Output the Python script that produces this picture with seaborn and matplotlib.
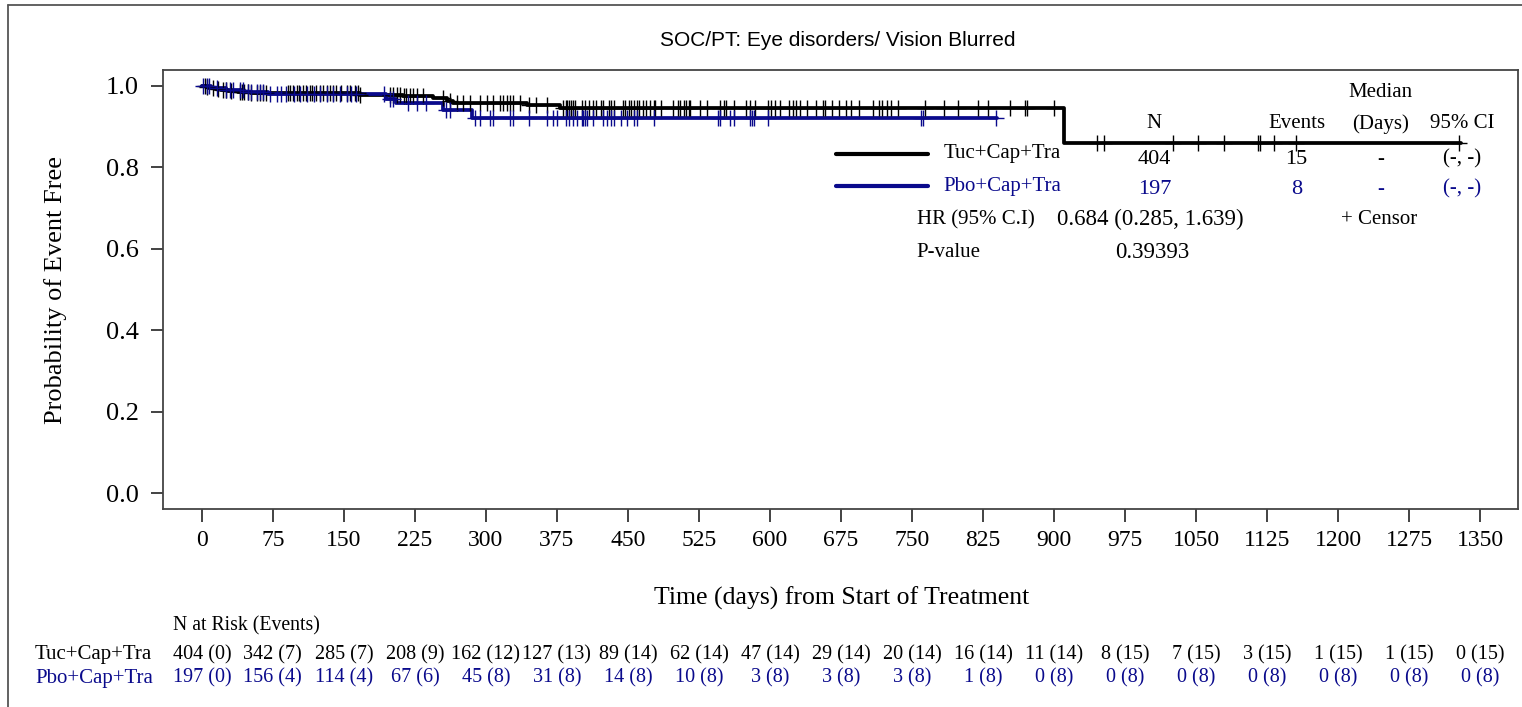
import numpy as np
import pandas as pd
import matplotlib
matplotlib.use("Agg")
import matplotlib.pyplot as plt
import matplotlib.transforms as mtransforms
from matplotlib.lines import Line2D
import seaborn as sns

# Kaplan-Meier step values
tuc_time = [0, 4, 8, 14, 20, 28, 38, 52, 167, 212, 244, 259, 265, 343, 378, 910, 1330]
tuc_surv = [1.0, .9975, .995, .9925, .990, .9875, .985, .9825, .978, .974, .969, .964, .959, .953, .946, .860, .860]
pbo_time = [0, 10, 25, 45, 70, 195, 205, 255, 285, 840]
pbo_surv = [1.0, .995, .990, .984, .979, .968, .958, .940, .921, .921]

# censor times (days)
tuc_censor = [3, 5, 12, 17, 22, 26, 31, 40, 42, 45, 49, 52, 58, 61, 65, 68, 91, 93, 96, 100, 103,
              107, 110, 114, 116, 121, 125, 128, 132, 135, 139, 142, 147, 153, 156, 162, 165, 167,
              199, 202, 206, 209, 213, 216, 220, 223, 227, 234, 255, 262, 269, 276, 283, 294, 301,
              308, 315, 318, 322, 325, 329, 336, 346, 353, 364, 381, 385, 386, 388, 390, 392, 394,
              401, 405, 409, 413, 416, 422, 424, 430, 432, 435, 445, 447, 451, 453, 456, 460, 462,
              466, 469, 473, 477, 479, 485, 498, 503, 505, 509, 511, 515, 516, 526, 533, 547, 551,
              554, 562, 575, 579, 584, 598, 601, 605, 611, 620, 624, 628, 632, 639, 649, 656, 658,
              665, 673, 680, 686, 694, 709, 715, 718, 724, 728, 735, 764, 784, 799, 820, 830, 854,
              869, 871, 900, 945, 953, 1026, 1052, 1080, 1115, 1118, 1132, 1156, 1328]
pbo_censor = [1, 5, 8, 16, 26, 30, 33, 40, 44, 49, 52, 58, 61, 65, 72, 79, 84, 89, 97, 104, 111,
              118, 125, 132, 139, 146, 153, 158, 163, 192, 199, 202, 218, 227, 237, 258, 262, 288,
              294, 304, 308, 325, 329, 346, 364, 371, 375, 385, 388, 392, 396, 401, 403, 405, 407,
              413, 424, 428, 432, 435, 443, 449, 456, 460, 477, 545, 547, 558, 562, 579, 581, 583,
              598, 760, 762, 839]

arms = ["Tuc+Cap+Tra", "Pbo+Cap+Tra"]
arm_n = ["404", "197"]
arm_events = ["15", "8"]
hr_text = "0.684 (0.285, 1.639)"
p_text = "0.39393"

x_ticks = list(range(0, 1351, 75))
tuc_risk = [404, 342, 285, 208, 162, 127, 89, 62, 47, 29, 20, 16, 11, 8, 7, 3, 1, 1, 0]
tuc_risk_ev = [0, 7, 7, 9, 12, 13, 14, 14, 14, 14, 14, 14, 14, 15, 15, 15, 15, 15, 15]
pbo_risk = [197, 156, 114, 67, 45, 31, 14, 10, 3, 3, 3, 1, 0, 0, 0, 0, 0, 0, 0]
pbo_risk_ev = [0, 4, 4, 6, 8, 8, 8, 8, 8, 8, 8, 8, 8, 8, 8, 8, 8, 8, 8]

BLACK = "#000000"
BLUE = "#0A0A8C"
SERIF = "Liberation Serif"

sns.set_theme(style="white")
plt.rcParams["font.family"] = [SERIF, "DejaVu Serif"]
plt.rcParams.update({"text.color": "black", "axes.labelcolor": "black",
                     "xtick.color": "black", "ytick.color": "black"})

fig = plt.figure(figsize=(15.22, 7.07), dpi=100)
ax = fig.add_axes([0.1071, 0.2801, 0.8903, 0.6209])

curves = pd.concat([
    pd.DataFrame({"time": tuc_time, "surv": tuc_surv, "arm": arms[0]}),
    pd.DataFrame({"time": pbo_time, "surv": pbo_surv, "arm": arms[1]}),
])
sns.lineplot(data=curves, x="time", y="surv", hue="arm", palette=[BLACK, BLUE],
             drawstyle="steps-post", linewidth=2.7, legend=False, ax=ax, estimator=None)


def step_value(times, surv, c):
    i = np.searchsorted(times, c, side="right") - 1
    return surv[i]


for times, surv, cens, col in [(tuc_time, tuc_surv, tuc_censor, BLACK),
                               (pbo_time, pbo_surv, pbo_censor, BLUE)]:
    ys = [step_value(times, surv, c) for c in cens]
    ax.plot(cens, ys, linestyle="none", marker="+", markersize=12, mew=1.0, color=col)

ax.set_xlim(-41, 1390)
ax.set_ylim(-0.039, 1.039)
ax.set_xticks(x_ticks)
ax.set_yticks([0.0, 0.2, 0.4, 0.6, 0.8, 1.0])
ax.set_yticklabels(["0.0", "0.2", "0.4", "0.6", "0.8", "1.0"])
ax.tick_params(axis="both", direction="out", length=9, width=1.2, color="#222222",
               labelcolor="black", bottom=True, left=True)
ax.tick_params(axis="x", labelsize=17, pad=6)
ax.tick_params(axis="y", labelsize=19, pad=8.5)
for sp in ax.spines.values():
    sp.set_color("#444444")
    sp.set_linewidth(1.3)

ax.set_xlabel("Time (days) from Start of Treatment", fontsize=18.5)
ax.xaxis.set_label_coords(0.501, -0.176)
ax.set_ylabel("Probability of Event Free", fontsize=19)
ax.yaxis.set_label_coords(-0.071, 0.499)

fig.text(838 / 1522, 1 - 40 / 707, "SOC/PT: Eye disorders/ Vision Blurred", ha="center",
         va="center", fontsize=15, family=["Liberation Sans", "DejaVu Sans"])

# stats table inside the plot
fs = 15
ax.plot([670, 767], [0.833, 0.833], color=BLACK, linewidth=3)
ax.plot([670, 767], [0.754, 0.754], color=BLUE, linewidth=3)
ax.text(783, 0.833, arms[0], fontsize=fs, va="center", color=BLACK)
ax.text(783, 0.754, arms[1], fontsize=fs, va="center", color=BLUE)
ax.text(1245, 0.983, "Median", fontsize=fs, ha="center", va="center")
for xc, lab in [(1006, "N"), (1157, "Events"), (1245, "(Days)"), (1331, "95% CI")]:
    ax.text(xc, 0.907, lab, fontsize=fs, ha="center", va="center")
for yc, n, ev, col in [(0.820, arm_n[0], arm_events[0], BLACK), (0.746, arm_n[1], arm_events[1], BLUE)]:
    ax.text(1006, yc, n, fontsize=16, ha="center", va="center", color=col)
    ax.text(1156, yc, ev, fontsize=16, ha="center", va="center", color=col)
    ax.text(1245, yc, "-", fontsize=fs, ha="center", va="center", color=col)
    ax.text(1331, yc, "(-, -)", fontsize=fs, ha="center", va="center", color=col)
ax.text(755, 0.671, "HR (95% C.I)", fontsize=fs, va="center")
ax.text(903, 0.671, hr_text, fontsize=16.5, va="center")
ax.text(1203, 0.671, "+ Censor", fontsize=fs, va="center")
ax.text(755, 0.592, "P-value", fontsize=fs, va="center")
ax.text(964, 0.592, p_text, fontsize=16.5, va="center")

# number at risk table
trans = mtransforms.blended_transform_factory(ax.transData, fig.transFigure)
fig.text(173 / 1522, 1 - 626 / 707, "N at Risk (Events)", fontsize=14.2, va="center")
fig.text(35 / 1522, 1 - 655 / 707, arms[0], fontsize=15, va="center", color=BLACK)
fig.text(35 / 1522, 1 - 678 / 707, arms[1], fontsize=15, va="center", color=BLUE)
for xt, r1, e1, r2, e2 in zip(x_ticks, tuc_risk, tuc_risk_ev, pbo_risk, pbo_risk_ev):
    ax.text(xt, 1 - 655 / 707, f"{r1} ({e1})", transform=trans, fontsize=14.5, ha="center",
            va="center", color=BLACK, clip_on=False)
    ax.text(xt, 1 - 678 / 707, f"{r2} ({e2})", transform=trans, fontsize=14.5, ha="center",
            va="center", color=BLUE, clip_on=False)

# outer frame lines (top and left)
fig.add_artist(Line2D([8 / 1522, 1.0], [1 - 5 / 707, 1 - 5 / 707], color="#555555", linewidth=1.3))
fig.add_artist(Line2D([8 / 1522, 8 / 1522], [0.0, 1 - 5 / 707], color="#555555", linewidth=1.3))

fig.savefig("out.png", dpi=100)
